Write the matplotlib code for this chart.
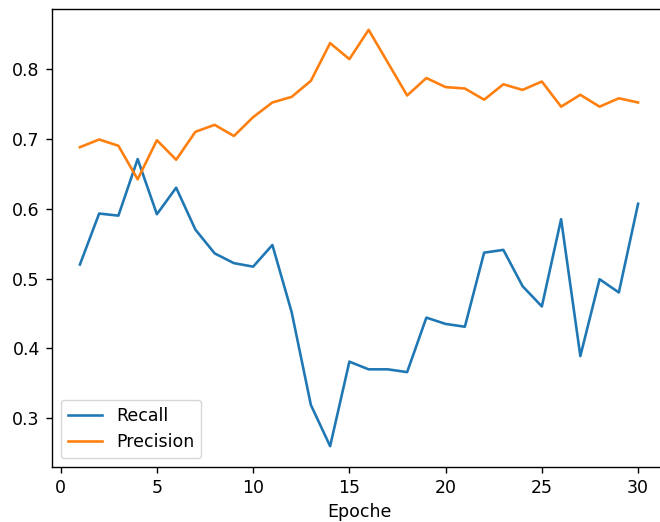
import matplotlib
matplotlib.use("Agg")
import matplotlib.pyplot as plt

epochs = list(range(1, 31))
recall = [0.520, 0.593, 0.590, 0.671, 0.592, 0.630, 0.570, 0.536, 0.522, 0.517,
          0.548, 0.452, 0.319, 0.260, 0.381, 0.370, 0.370, 0.366, 0.444, 0.435,
          0.431, 0.537, 0.541, 0.489, 0.460, 0.585, 0.389, 0.499, 0.480, 0.607]
precision = [0.688, 0.699, 0.690, 0.642, 0.698, 0.670, 0.710, 0.720, 0.704, 0.731,
             0.752, 0.760, 0.783, 0.837, 0.814, 0.856, 0.809, 0.762, 0.787, 0.774,
             0.772, 0.756, 0.778, 0.770, 0.782, 0.746, 0.763, 0.746, 0.758, 0.752]

# reference looks like default style rendered ~1.25x larger
s = 1.25
plt.rcParams.update({
    'font.size': 10 * s,
    'lines.linewidth': 1.5 * s,
    'axes.linewidth': 0.8 * s,
    'xtick.major.size': 3.5 * s,
    'ytick.major.size': 3.5 * s,
    'xtick.major.width': 0.8 * s,
    'ytick.major.width': 0.8 * s,
    'xtick.major.pad': 3.5 * s,
    'ytick.major.pad': 3.5 * s,
})

fig = plt.figure(figsize=(6.6, 5.22), dpi=100)
ax = fig.add_axes([52/660, 1 - 467/522, (666 - 52)/660, (467 - 9)/522])
ax.plot(epochs, recall, label='Recall')
ax.plot(epochs, precision, label='Precision')
ax.set_xlabel('Epoche')
ax.legend(loc='lower left')
fig.savefig('out.png', dpi=100)
